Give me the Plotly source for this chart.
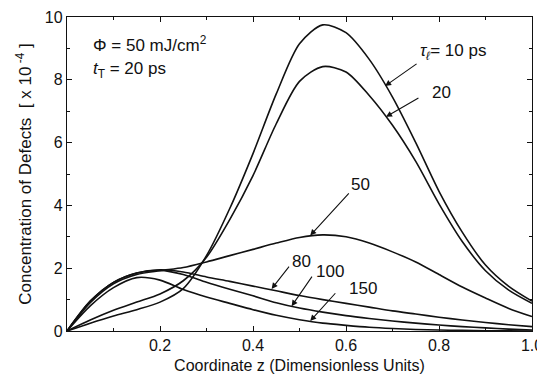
import plotly.graph_objects as go

z = [0.0, 0.05, 0.10, 0.15, 0.20, 0.25, 0.30, 0.35, 0.40, 0.45, 0.50,
     0.55, 0.60, 0.65, 0.70, 0.75, 0.80, 0.85, 0.90, 0.95, 1.00]

tau_10 = [0, 0.25, 0.48, 0.68, 0.92, 1.35, 2.4, 3.9, 5.65, 7.55, 9.15,
          9.75, 9.5, 8.65, 7.45, 6.0, 4.45, 3.15, 2.1, 1.42, 0.95]
tau_20 = [0, 0.35, 0.66, 0.92, 1.18, 1.6, 2.35, 3.55, 4.95, 6.6, 7.95,
          8.42, 8.25, 7.5, 6.55, 5.4, 4.05, 2.85, 1.92, 1.3, 0.88]
tau_50 = [0, 0.9, 1.5, 1.8, 1.92, 2.02, 2.2, 2.4, 2.6, 2.8, 2.98,
          3.06, 3.0, 2.8, 2.52, 2.2, 1.8, 1.4, 1.05, 0.72, 0.46]
tau_80 = [0, 0.95, 1.55, 1.85, 1.95, 1.88, 1.72, 1.58, 1.43, 1.28, 1.13,
          1.0, 0.88, 0.76, 0.64, 0.54, 0.44, 0.35, 0.27, 0.2, 0.14]
tau_100 = [0, 0.95, 1.55, 1.85, 1.93, 1.8, 1.55, 1.33, 1.12, 0.9, 0.73,
           0.6, 0.49, 0.4, 0.32, 0.25, 0.19, 0.14, 0.1, 0.06, 0.03]
tau_150 = [0, 0.8, 1.38, 1.7, 1.62, 1.32, 1.08, 0.88, 0.68, 0.5, 0.36,
           0.25, 0.18, 0.12, 0.08, 0.05, 0.03, 0.02, 0.01, 0.01, 0.0]

series = [tau_10, tau_20, tau_50, tau_80, tau_100, tau_150]

x_tick_vals = [0.2, 0.4, 0.6, 0.8, 1.0]
x_tick_text = ["0.2", "0.4", "0.6", "0.8", "1.0"]
y_tick_vals = [0, 2, 4, 6, 8, 10]
y_tick_text = ["0", "2", "4", "6", "8", "10"]

FONT = "Arial, Liberation Sans, Helvetica, sans-serif"
INK = "#111111"

fig = go.Figure()
for s in series:
    fig.add_trace(go.Scatter(x=z, y=s, mode="lines",
                             line=dict(color=INK, width=1.6, shape="spline", smoothing=0.8),
                             showlegend=False, hoverinfo="skip"))

axis_common = dict(showline=True, linecolor=INK, linewidth=1.3, mirror="allticks",
                   ticks="inside", ticklen=5, tickwidth=1, tickcolor=INK,
                   showgrid=False, zeroline=False, automargin=False,
                   tickfont=dict(family=FONT, size=16, color=INK))

fig.update_xaxes(range=[0, 1.0], tickvals=x_tick_vals, ticktext=x_tick_text,
                 minor=dict(ticks="inside", ticklen=3, dtick=0.1, tick0=0, tickcolor=INK),
                 title=dict(text="Coordinate z (Dimensionless Units)",
                            font=dict(family=FONT, size=16, color=INK), standoff=6),
                 **axis_common)
fig.update_yaxes(range=[0, 10], tickvals=y_tick_vals, ticktext=y_tick_text,
                 minor=dict(ticks="inside", ticklen=3, dtick=1, tick0=0, tickcolor=INK),
                 title=dict(text="Concentration of Defects  [ x 10<sup> -4</sup> ]",
                            font=dict(family=FONT, size=17, color=INK), standoff=8),
                 **axis_common)

def label(x, y, text, size=17, xanchor="center"):
    fig.add_annotation(x=x, y=y, xref="x", yref="y", text=text, showarrow=False,
                       xanchor=xanchor, yanchor="middle",
                       font=dict(family=FONT, size=size, color=INK))

def arrow(x_tail, y_tail, x_head, y_head):
    fig.add_annotation(x=x_head, y=y_head, ax=x_tail, ay=y_tail,
                       xref="x", yref="y", axref="x", ayref="y", text="",
                       showarrow=True, arrowhead=2, arrowsize=1.1, arrowwidth=1.1,
                       arrowcolor=INK)

label(0.052, 9.15, "Φ = 50 mJ/cm<sup>2</sup>", xanchor="left")
label(0.052, 8.3, "<i>t</i><sub>T</sub> = 20 ps", xanchor="left")
label(0.755, 8.9, "<i>τ</i><sub><i>ℓ</i></sub>= 10 ps", xanchor="left")
label(0.805, 7.6, "20")
label(0.632, 4.65, "50")
label(0.505, 2.2, "80")
label(0.565, 1.9, "100")
label(0.636, 1.35, "150")

arrow(0.755, 8.54, 0.684, 7.8)
arrow(0.759, 7.45, 0.686, 6.82)
arrow(0.609, 4.43, 0.523, 3.04)
arrow(0.48, 2.10, 0.44, 1.34)
arrow(0.529, 1.78, 0.483, 0.79)
arrow(0.58, 1.25, 0.523, 0.32)

# page body adds an 8px offset; figure height keeps the page free of a vertical scrollbar,
# and the plot frame lands where the reference has it
fig.update_layout(width=537, height=367, margin=dict(l=59, r=13, t=9, b=44, autoexpand=False),
                  plot_bgcolor="white", paper_bgcolor="white",
                  font=dict(family=FONT, color=INK))

fig.write_html("out.html")
